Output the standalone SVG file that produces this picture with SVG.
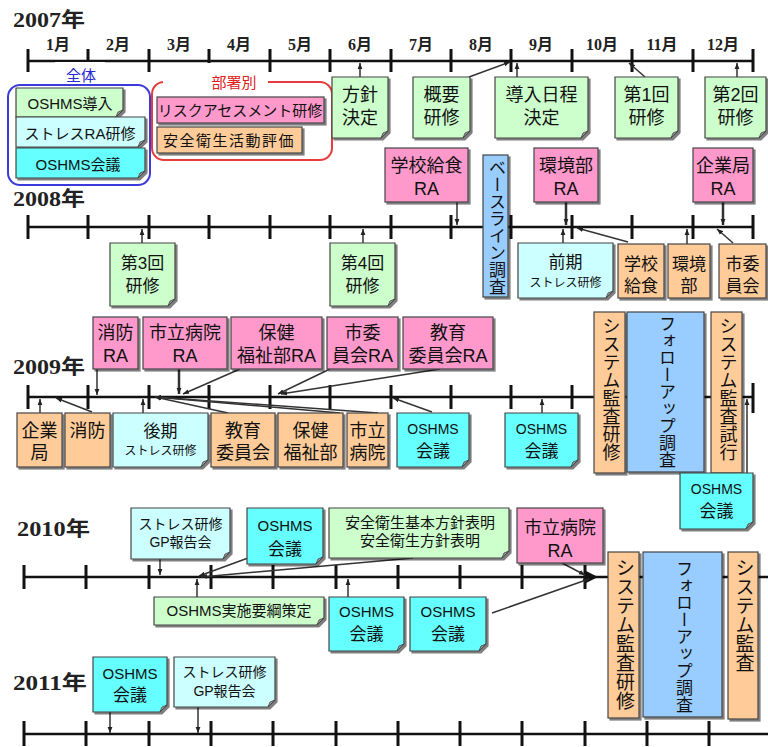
<svg xmlns="http://www.w3.org/2000/svg" width="768" height="747" viewBox="0 0 768 747">
<defs>
<style>
.tl{stroke:#111;stroke-width:2.5;fill:none}
.tk{stroke:#111;stroke-width:3;fill:none}
.c{stroke:#333;stroke-width:1.5;fill:none;marker-end:url(#ah)}
.cb{stroke-width:2.5}
.b{stroke:#444;stroke-width:1.2;filter:url(#sh)}
.gr{fill:#ccffcc}.lc{fill:#ccffff}.cy{fill:#66ffff}.pk{fill:#ff99cc}.or{fill:#ffcc99}.bl{fill:#99ccff}
.fold{fill:#9a9a9a;stroke:#444;stroke-width:0.8}
.t{font-family:'Liberation Sans','Noto Sans CJK JP',sans-serif;fill:#111;text-anchor:middle}
.v{writing-mode:vertical-rl;text-anchor:start}
.yr{font-family:'Liberation Serif','Noto Sans CJK JP',serif;font-weight:bold;font-size:20px;fill:#222}
.mo{font-family:'Liberation Serif','Noto Sans CJK JP',serif;font-weight:bold;font-size:16px;text-anchor:middle;fill:#222}
.f12{font-size:12px}.f14{font-size:14px}.f15{font-size:15px}.f17{font-size:17px}.f18{font-size:18px}.f19{font-size:19px}
</style>
<filter id="sh" x="-10%" y="-10%" width="130%" height="130%"><feDropShadow dx="2" dy="2" stdDeviation="0.6" flood-color="#000" flood-opacity="0.5"/></filter>
<marker id="ah" viewBox="0 0 10 10" refX="10" refY="5" markerWidth="6" markerHeight="6" orient="auto" markerUnits="userSpaceOnUse"><path d="M0,1L10,5L0,9Z" fill="#222"/></marker>
</defs>
<rect width="768" height="747" fill="#fff"/>

<g id="timelines">
<path class="tl" d="M28,61H753"/>
<path class="tk" d="M28,49V72M88,49V72M149,49V72M209,49V72M270,49V72M330,49V72M391,49V72M451,49V72M511,49V72M572,49V72M632,49V72M693,49V72M753,49V72"/>
<path class="tl" d="M28,227H753"/>
<path class="tk" d="M28,215V239M88,215V239M149,215V239M209,215V239M270,215V239M330,215V239M391,215V239M451,215V239M511,215V239M572,215V239M632,215V239M693,215V239M753,215V239"/>
<path class="tl" d="M28,397H753"/>
<path class="tk" d="M28,385V409M88,385V409M149,385V409M209,385V409M270,385V409M330,385V409M391,385V409M451,385V409M511,385V409M572,385V409M632,385V409M693,385V409M753,383V413"/>
<path class="tl" d="M24,577H768"/>
<path class="tk" d="M24,565V589M86,565V589M149,565V589M211,565V589M273,565V589M336,565V589M398,565V589M460,565V589M522,565V589M585,565V589"/>
<polygon points="586,571 598,577 586,583" fill="#111"/>
<path class="tl" d="M24,734H768"/>
<path class="tk" d="M24,721V746M86,721V746M149,721V746M211,721V746M273,721V746M336,721V746M398,721V746M460,721V746M522,721V746M585,721V746M647,721V746M709,721V746"/>
<text class="yr" x="13" y="27" textLength="72" lengthAdjust="spacingAndGlyphs">2007年</text>
<text class="yr" x="13" y="206" textLength="72" lengthAdjust="spacingAndGlyphs">2008年</text>
<text class="yr" x="13" y="374" textLength="72" lengthAdjust="spacingAndGlyphs">2009年</text>
<text class="yr" x="17" y="536" textLength="73" lengthAdjust="spacingAndGlyphs">2010年</text>
<text class="yr" x="13" y="690" textLength="74" lengthAdjust="spacingAndGlyphs">2011年</text>
<text class="mo" x="58" y="50">1月</text>
<text class="mo" x="118" y="50">2月</text>
<text class="mo" x="179" y="50">3月</text>
<text class="mo" x="239" y="50">4月</text>
<text class="mo" x="300" y="50">5月</text>
<text class="mo" x="360" y="50">6月</text>
<text class="mo" x="421" y="50">7月</text>
<text class="mo" x="481" y="50">8月</text>
<text class="mo" x="541" y="50">9月</text>
<text class="mo" x="602" y="50">10月</text>
<text class="mo" x="662" y="50">11月</text>
<text class="mo" x="723" y="50">12月</text>
</g>

<g id="group-zentai">
<rect x="8" y="85" width="142" height="100" rx="12" fill="none" stroke="#3b3bdc" stroke-width="2"/>
<rect x="55" y="62" width="50" height="22" fill="#fff"/>
<text class="t f15" x="81" y="81" style="fill:#2a2ad0">全体</text>
</g>
<g id="group-busho">
<rect x="152" y="82" width="180" height="78" rx="12" fill="none" stroke="#e83c3c" stroke-width="2"/>
<rect x="163" y="63" width="105" height="28" fill="#fff"/>
<text class="t f15" x="234" y="88" style="fill:#e02020">部署別</text>
</g>

<g id="connectors">
<path class="c" d="M360,77V63"/>
<path class="c" d="M469,77L510,62"/>
<path class="c" d="M517,77V63"/>
<path class="c" d="M645,77L629,63"/>
<path class="c" d="M737,77V63"/>
<path class="c" d="M457,202V225"/>
<path class="c cb" d="M566,202V225"/>
<path class="c cb" d="M723,202V225"/>
<path class="c" d="M142,243V229"/>
<path class="c" d="M363,243V229"/>
<path class="c" d="M563,243V229"/>
<path class="c" d="M628,242L577,228"/>
<path class="c" d="M687,244V229"/>
<path class="c" d="M733,243L717,229"/>
<path class="c" d="M97,369V395"/>
<path class="c cb" d="M179,369V394"/>
<path class="c" d="M240,369L183,394"/>
<path class="c" d="M330,369L278,394"/>
<path class="c" d="M440,369L281,394"/>
<path class="c" d="M40,413V399"/>
<path class="c" d="M92,412L56,398"/>
<path class="c" d="M143,413V399"/>
<path class="c" d="M228,413L155,397"/>
<path class="c" d="M340,413L155,397"/>
<path class="c" d="M378,413L155,397"/>
<path class="c" d="M432,412L393,398"/>
<path class="c" d="M542,413V399"/>
<path class="c" d="M747,473V399"/>
<path class="c" d="M160,559V575"/>
<path class="c" d="M248,558L199,576"/>
<path class="c" d="M413,558L201,577"/>
<path class="c" d="M562,563L585,575"/>
<path class="c" d="M197,597V579"/>
<path class="c" d="M348,597V579"/>
<path class="c" d="M492,613L589,579"/>
<path class="c" d="M110,712V733"/>
<path class="c" d="M198,707V733"/>
</g>

<g id="n-oshms-intro"><path class="b gr" d="M16,88H123V110L116,117H16Z"/><path class="fold" d="M116,117L118,112L123,110Z"/><text class="t f15" x="70" y="109">OSHMS導入</text></g>
<g id="n-stress-ra"><path class="b lc" d="M16,117H145V140L138,147H16Z"/><path class="fold" d="M138,147L140,142L145,140Z"/><text class="t f15" x="80" y="139">ストレスRA研修</text></g>
<g id="n-oshms-kaigi-07"><path class="b cy" d="M16,148H145V171L138,178H16Z"/><path class="fold" d="M138,178L140,173L145,171Z"/><text class="t f15" x="78" y="170">OSHMS会議</text></g>
<g id="n-risk"><rect class="b pk" x="157" y="97" width="167" height="26"/><text class="t f15" x="240" y="116">リスクアセスメント研修</text></g>
<g id="n-hyoka"><rect class="b or" x="157" y="127" width="145" height="26"/><text class="t f15" x="229" y="146" letter-spacing="1.5">安全衛生活動評価</text></g>

<g id="n-hoshin"><path class="b gr" d="M332,77H388V131L381,138H332Z"/><path class="fold" d="M381,138L383,133L388,131Z"/><text class="t f18" x="360" y="101">方針</text><text class="t f18" x="360" y="124">決定</text></g>
<g id="n-gaiyo"><path class="b gr" d="M413,77H470V131L463,138H413Z"/><path class="fold" d="M463,138L465,133L470,131Z"/><text class="t f18" x="441.5" y="101">概要</text><text class="t f18" x="441.5" y="124">研修</text></g>
<g id="n-nittei"><path class="b gr" d="M495,77H588V131L581,138H495Z"/><path class="fold" d="M581,138L583,133L588,131Z"/><text class="t f18" x="541.5" y="101">導入日程</text><text class="t f18" x="541.5" y="124">決定</text></g>
<g id="n-kenshu1"><path class="b gr" d="M615,77H678V131L671,138H615Z"/><path class="fold" d="M671,138L673,133L678,131Z"/><text class="t f18" x="646.5" y="101">第1回</text><text class="t f18" x="646.5" y="124">研修</text></g>
<g id="n-kenshu2"><path class="b gr" d="M705,77H766V131L759,138H705Z"/><path class="fold" d="M759,138L761,133L766,131Z"/><text class="t f18" x="735.5" y="101">第2回</text><text class="t f18" x="735.5" y="124">研修</text></g>

<g id="n-gakko-ra"><rect class="b pk" x="385" y="148" width="83" height="54"/><text class="t f18" x="426.5" y="172">学校給食</text><text class="t f18" x="426.5" y="195">RA</text></g>
<g id="n-kankyo-ra"><rect class="b pk" x="534" y="148" width="64" height="54"/><text class="t f18" x="566" y="172">環境部</text><text class="t f18" x="566" y="195">RA</text></g>
<g id="n-kigyo-ra"><rect class="b pk" x="693" y="148" width="60" height="54"/><text class="t f18" x="723" y="172">企業局</text><text class="t f18" x="723" y="195">RA</text></g>
<g id="n-baseline"><rect class="b bl" x="483" y="155" width="25" height="142"/><text class="t f17 v" x="495.5" y="159">ベースライン調査</text></g>

<g id="n-kenshu3"><path class="b gr" d="M110,243H175V299L168,306H110Z"/><path class="fold" d="M168,306L170,301L175,299Z"/><text class="t f17" x="142.5" y="269">第3回</text><text class="t f17" x="142.5" y="292">研修</text></g>
<g id="n-kenshu4"><path class="b gr" d="M330,243H395V299L388,306H330Z"/><path class="fold" d="M388,306L390,301L395,299Z"/><text class="t f17" x="362.5" y="269">第4回</text><text class="t f17" x="362.5" y="292">研修</text></g>
<g id="n-zenki"><path class="b lc" d="M518,243H613V291L606,298H518Z"/><path class="fold" d="M606,298L608,293L613,291Z"/><text class="t f17" x="565.5" y="268">前期</text><text class="t f12" x="565.5" y="287">ストレス研修</text></g>
<g id="n-gakko"><rect class="b or" x="618" y="244" width="46" height="54"/><text class="t f17" x="641" y="270">学校</text><text class="t f17" x="641" y="292">給食</text></g>
<g id="n-kankyo"><rect class="b or" x="668" y="244" width="42" height="54"/><text class="t f17" x="689" y="270">環境</text><text class="t f17" x="689" y="292">部</text></g>
<g id="n-shiiin"><rect class="b or" x="719" y="244" width="47" height="54"/><text class="t f17" x="742.5" y="270">市委</text><text class="t f17" x="742.5" y="292">員会</text></g>

<g id="n-shobo-ra"><rect class="b pk" x="93" y="317" width="45" height="52"/><text class="t f18" x="115.5" y="339">消防</text><text class="t f18" x="115.5" y="362">RA</text></g>
<g id="n-byoin-ra"><rect class="b pk" x="143" y="317" width="84" height="52"/><text class="t f18" x="185" y="339">市立病院</text><text class="t f18" x="185" y="362">RA</text></g>
<g id="n-hoken-ra"><rect class="b pk" x="231" y="317" width="91" height="52"/><text class="t f18" x="276.5" y="339">保健</text><text class="t f18" x="276.5" y="362">福祉部RA</text></g>
<g id="n-shiiin-ra"><rect class="b pk" x="327" y="317" width="71" height="52"/><text class="t f18" x="362.5" y="339">市委</text><text class="t f18" x="362.5" y="362">員会RA</text></g>
<g id="n-kyoiku-ra"><rect class="b pk" x="403" y="317" width="90" height="52"/><text class="t f18" x="448" y="339">教育</text><text class="t f18" x="448" y="362">委員会RA</text></g>

<g id="n-kigyo"><rect class="b or" x="17" y="413" width="45" height="54"/><text class="t f18" x="39.5" y="437">企業</text><text class="t f18" x="39.5" y="459">局</text></g>
<g id="n-shobo"><rect class="b or" x="65" y="413" width="45" height="54"/><text class="t f18" x="87.5" y="437">消防</text></g>
<g id="n-koki"><path class="b lc" d="M113,413H208V460L201,467H113Z"/><path class="fold" d="M201,467L203,462L208,460Z"/><text class="t f17" x="160.5" y="437">後期</text><text class="t f12" x="160.5" y="455">ストレス研修</text></g>
<g id="n-kyoiku"><rect class="b or" x="211" y="413" width="64" height="54"/><text class="t f18" x="243" y="437">教育</text><text class="t f18" x="243" y="459">委員会</text></g>
<g id="n-hoken"><rect class="b or" x="278" y="413" width="65" height="54"/><text class="t f18" x="310.5" y="437">保健</text><text class="t f18" x="310.5" y="459">福祉部</text></g>
<g id="n-byoin"><rect class="b or" x="347" y="413" width="41" height="54"/><text class="t f18" x="367.5" y="437">市立</text><text class="t f18" x="367.5" y="459">病院</text></g>
<g id="n-oshms-09a"><path class="b cy" d="M397,413H469V460L462,467H397Z"/><path class="fold" d="M462,467L464,462L469,460Z"/><text class="t f14" x="433" y="434">OSHMS</text><text class="t f17" x="433" y="457">会議</text></g>
<g id="n-oshms-09b"><path class="b cy" d="M505,413H578V460L571,467H505Z"/><path class="fold" d="M571,467L573,462L578,460Z"/><text class="t f14" x="541.5" y="434">OSHMS</text><text class="t f17" x="541.5" y="457">会議</text></g>
<g id="n-kansa-kenshu-09"><rect class="b or" x="594" y="312" width="31" height="161"/><text class="t f18 v" x="609.5" y="317">システム監査研修</text></g>
<g id="n-followup-09"><rect class="b bl" x="627" y="312" width="77" height="160"/><text class="t f17 v" x="665.5" y="315">フォローアップ調査</text></g>
<g id="n-kansa-shiko"><rect class="b or" x="711" y="312" width="31" height="161"/><text class="t f18 v" x="726.5" y="317">システム監査試行</text></g>
<g id="n-oshms-09c"><path class="b cy" d="M680,473H753V522L746,529H680Z"/><path class="fold" d="M746,529L748,524L753,522Z"/><text class="t f14" x="716.5" y="494">OSHMS</text><text class="t f17" x="716.5" y="517">会議</text></g>

<g id="n-gp-10"><path class="b lc" d="M131,508H230V552L223,559H131Z"/><path class="fold" d="M223,559L225,554L230,552Z"/><text class="t f14" x="180.5" y="529">ストレス研修</text><text class="t f14" x="180.5" y="547">GP報告会</text></g>
<g id="n-oshms-10a"><path class="b cy" d="M247,508H323V557L316,564H247Z"/><path class="fold" d="M316,564L318,559L323,557Z"/><text class="t f15" x="285" y="531">OSHMS</text><text class="t f17" x="285" y="555">会議</text></g>
<g id="n-hoshin-10"><path class="b gr" d="M329,508H509V551L502,558H329Z"/><path class="fold" d="M502,558L504,553L509,551Z"/><text class="t f15" x="420" y="528">安全衛生基本方針表明</text><text class="t f15" x="420" y="546">安全衛生方針表明</text></g>
<g id="n-byoin-ra-10"><rect class="b pk" x="517" y="508" width="86" height="55"/><text class="t f18" x="560" y="534">市立病院</text><text class="t f18" x="560" y="557">RA</text></g>
<g id="n-yoko"><path class="b gr" d="M154,597H324V618L317,625H154Z"/><path class="fold" d="M317,625L319,620L324,618Z"/><text class="t f15" x="239" y="616">OSHMS実施要綱策定</text></g>
<g id="n-oshms-10b"><path class="b cy" d="M329,597H404V644L397,651H329Z"/><path class="fold" d="M397,651L399,646L404,644Z"/><text class="t f15" x="366.5" y="617">OSHMS</text><text class="t f17" x="366.5" y="640">会議</text></g>
<g id="n-oshms-10c"><path class="b cy" d="M410,597H486V644L479,651H410Z"/><path class="fold" d="M479,651L481,646L486,644Z"/><text class="t f15" x="448" y="617">OSHMS</text><text class="t f17" x="448" y="640">会議</text></g>
<g id="n-kansa-kenshu-10"><rect class="b or" x="608" y="552" width="31" height="166"/><text class="t f19 v" x="623.5" y="558">システム監査研修</text></g>
<g id="n-followup-10"><rect class="b bl" x="643" y="552" width="79" height="165"/><text class="t f17 v" x="682.5" y="560">フォローアップ調査</text></g>
<g id="n-kansa-10"><rect class="b or" x="728" y="552" width="30" height="167"/><text class="t f19 v" x="743" y="558">システム監査</text></g>

<g id="n-oshms-11"><path class="b cy" d="M93,657H167V705L160,712H93Z"/><path class="fold" d="M160,712L162,707L167,705Z"/><text class="t f15" x="130" y="679">OSHMS</text><text class="t f17" x="130" y="701">会議</text></g>
<g id="n-gp-11"><path class="b lc" d="M174,657H275V700L268,707H174Z"/><path class="fold" d="M268,707L270,702L275,700Z"/><text class="t f14" x="224.5" y="677">ストレス研修</text><text class="t f14" x="224.5" y="696">GP報告会</text></g>
</svg>
